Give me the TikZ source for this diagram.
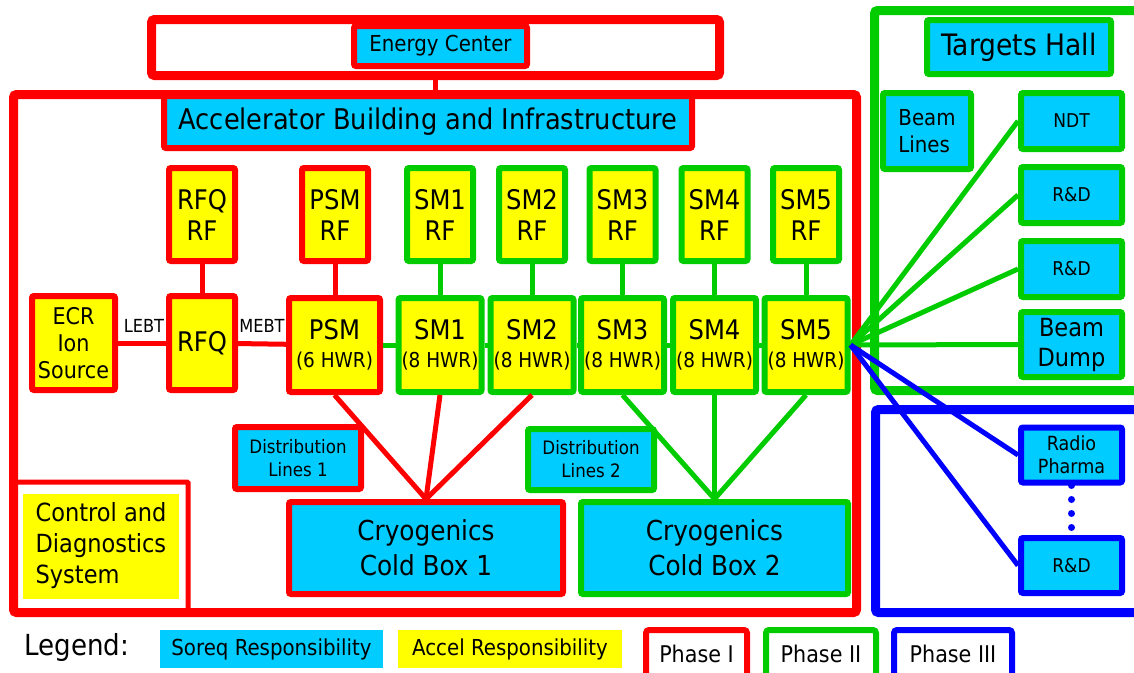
\documentclass[tikz,border=0pt]{standalone}
\usepackage{fontspec}
\setmainfont{DejaVu Sans Condensed}
\definecolor{soreqcol}{HTML}{00CCFF}
\definecolor{accelcol}{HTML}{FFFF00}
\definecolor{phI}{HTML}{FF0000}
\definecolor{phII}{HTML}{00CC00}
\definecolor{phIII}{HTML}{0000FF}
\newcommand{\fsz}[2]{\fontsize{#1}{#2}\selectfont}

\begin{document}
\begin{tikzpicture}[x=1pt, y=-1pt, font=\fsz{20}{26}, zone/.style={draw, line width=9pt, rounded corners=3pt, inner sep=0pt}, soreq/.style={fill=soreqcol, draw, line width=6pt, rounded corners=2pt, align=center, inner sep=0pt}, accel/.style={fill=accelcol, draw, line width=6pt, rounded corners=2pt, align=center, inner sep=0pt}, link/.style={line width=5pt}, dims/.style 2 args={minimum width=#1, minimum height=#2}]
\useasboundingbox (0,0) rectangle (1134,672);
\node[zone, draw=phI, dims={568}{56}] (energyzone) at (435.5,47.5) {};
\node[soreq, draw=phI, dims={173}{40}, font=\fsz{22}{26}] (energy) at (440.5,46) {Energy Center};
\node[zone, draw=phI, dims={843}{518}] (accelzone) at (435,353.5) {};
\node[soreq, draw=phI, dims={528}{52}, font=\fsz{28.5}{32}] (building) at (428,122) {Accelerator Building and Infrastructure};
\node[zone, draw=phI, line width=5pt, rounded corners=1pt, dims={174.5}{130.5}] (controlzone) at (100.75,547.25) {};
\node[fill=accelcol, dims={156.5}{105}, align=left, font=\fsz{25}{31}] (control) at (101,546) {Control and\\Diagnostics\\System};
\foreach \x/\nm/\lab/\col in {202/rfqrf/RFQ/phI, 335/psmrf/PSM/phI, 440/sm1rf/SM1/phII, 532/sm2rf/SM2/phII, 622.5/sm3rf/SM3/phII, 714.5/sm4rf/SM4/phII, 806/sm5rf/SM5/phII}{\node[accel, draw=\col, dims={66}{93}, font=\fsz{27}{31}] (\nm) at (\x,214.5) {\lab\\RF};}
\node[accel, draw=phI, dims={83}{94}, font=\fsz{23}{27}] (ecr) at (73.5,343) {ECR\\Ion\\Source};
\node[accel, draw=phI, dims={66}{94}, font=\fsz{27}{30}] (rfq) at (202,343) {RFQ};
\foreach \x/\nm/\lab/\col/\w/\hw in {334.5/psm/PSM/phI/91/6, 440/sm1/SM1/phII/83/8, 532/sm2/SM2/phII/83/8, 622.5/sm3/SM3/phII/83/8, 714.5/sm4/SM4/phII/83/8, 806/sm5/SM5/phII/83/8}{\node[accel, draw=\col, dims={\w}{94}, font=\fsz{27}{28}] (\nm) at (\x,345) {\lab\\{\fsz{20.5}{22}(\hw\ HWR)}};}
\node[soreq, draw=phI, dims={126}{62}, font=\fsz{18.5}{23}] (dist1) at (298,458) {Distribution\\Lines 1};
\node[soreq, draw=phII, dims={126}{61}, font=\fsz{18.5}{23}] (dist2) at (591,459.5) {Distribution\\Lines 2};
\node[soreq, draw=phI, dims={274}{92}, font=\fsz{27.5}{35}] (cryo1) at (426,548) {Cryogenics\\Cold Box 1};
\node[soreq, draw=phII, dims={267}{92}, font=\fsz{27.5}{35}] (cryo2) at (714.5,548) {Cryogenics\\Cold Box 2};
\node[zone, draw=phII, dims={275}{380}] (targetzone) at (1012,200.5) {};
\node[soreq, draw=phII, dims={184}{54}, font=\fsz{29.5}{32}] (targets) at (1019,47) {Targets Hall};
\node[soreq, draw=phII, dims={88}{76}, align=left, font=\fsz{22}{27}] (beamlines) at (927,131) {Beam\\Lines};
\node[soreq, draw=phII, dims={101}{56}, font=\fsz{19}{22}] (ndt) at (1071.5,121) {NDT};
\node[soreq, draw=phII, dims={101}{56}, font=\fsz{19}{22}] (rd1) at (1071.5,195) {R\&D};
\node[soreq, draw=phII, dims={101}{56}, font=\fsz{19}{22}] (rd2) at (1071.5,269) {R\&D};
\node[soreq, draw=phII, dims={101}{65}, font=\fsz{25}{30}] (dump) at (1071.5,344.5) {Beam\\Dump};
\node[zone, draw=phIII, dims={274}{203}] (phasezone) at (1012.5,511) {};
\node[soreq, draw=phIII, dims={101}{55}, font=\fsz{19.5}{23}] (radio) at (1071.5,455) {Radio\\Pharma};
\node[soreq, draw=phIII, dims={101}{55}, font=\fsz{19}{22}] (rd3) at (1071.5,565.5) {R\&D};
\node[font=\fsz{29}{30}] (legend) at (77,647) {Legend:};
\node[fill=soreqcol, dims={223}{38}, font=\fsz{22}{24}] (soreqkey) at (271.5,649) {Soreq Responsibility};
\node[fill=accelcol, dims={224}{38}, font=\fsz{22}{24}] (accelkey) at (510,649) {Accel Responsibility};
\foreach \x/\nm/\lab/\col/\w in {696.5/phase1/Phase I/phI/101, 821/phase2/Phase II/phII/110, 953/phase3/Phase III/phIII/118}{\node[draw=\col, line width=6pt, rounded corners=3pt, dims={\w}{48}, font=\fsz{23}{24}] (\nm) at (\x,654) {\lab};}
\draw[link, phI] (energyzone.south) -- (energyzone.south |- accelzone.north);
\foreach \a/\b/\col in {rfqrf/rfq/phI, psmrf/psm/phI, sm1rf/sm1/phII, sm2rf/sm2/phII, sm3rf/sm3/phII, sm4rf/sm4/phII, sm5rf/sm5/phII}{\draw[link, \col] (\a.south) -- (\a.south |- \b.north);}
\draw[link, phI] (ecr) -- (rfq);
\node[font=\fsz{18}{20}] (lebt) at (144,326) {LEBT};
\draw[link, phI] (rfq) -- (psm);
\node[font=\fsz{18}{20}] (mebt) at (262,326) {MEBT};
\foreach \a/\b in {psm/sm1, sm1/sm2, sm2/sm3, sm3/sm4, sm4/sm5}{\draw[link, phII] (\a) -- (\b);}
\foreach \m in {psm, sm1, sm2}{\draw[link, phI] (\m.south) -- (cryo1.north);}
\foreach \m in {sm3, sm4, sm5}{\draw[link, phII] (\m.south) -- (cryo2.north);}
\foreach \t in {ndt, rd1, rd2, dump}{\draw[link, phII] (sm5.east) -- (\t.west);}
\foreach \t in {radio, rd3}{\draw[link, phIII] (sm5.east) -- (\t.west);}
\draw[phIII, line width=7pt, line cap=round, dash pattern=on 0pt off 14pt] (radio.south) -- (rd3.north);
\end{tikzpicture}
\end{document}
